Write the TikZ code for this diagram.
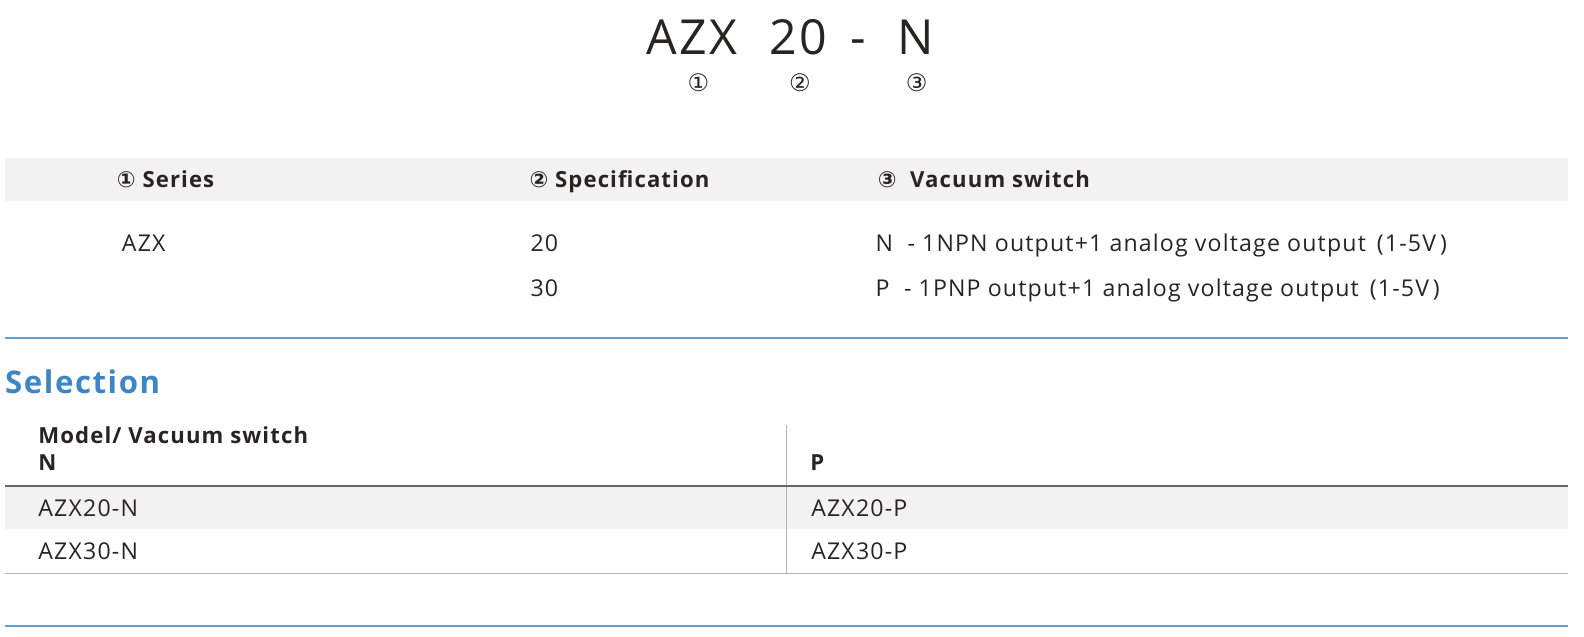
\documentclass[tikz,border=0pt]{standalone}
\usepackage{fontspec}
\setmainfont{Open Sans}[LetterSpace=5]
\newfontfamily\symfont{DejaVu Sans}
\definecolor{bandgray}{RGB}{242,242,242}
\definecolor{rulegray}{RGB}{180,180,180}
\definecolor{selblue}{RGB}{58,134,200}
\definecolor{lineblue}{RGB}{95,160,220}
\definecolor{txt}{RGB}{40,36,36}
\tikzset{
  body/.style={anchor=base west, inner sep=0pt, text=txt, font=\fontsize{23}{25}\selectfont},
  head/.style={body, font=\fontsize{22}{24}\selectfont\bfseries},
  big/.style={anchor=base, inner sep=0pt, text=txt, font=\fontsize{48}{50}\selectfont},
  circ/.style={inner sep=0pt, text=txt, font=\symfont\fontsize{24}{26}\selectfont}
}
\begin{document}
\begin{tikzpicture}[x=1pt,y=1pt,yscale=-1]
\useasboundingbox (0,0) rectangle (1574,632);
% title
\node[big] (azx) at (688,54) {AZX};
\node[big] (twenty) at (793,54) {20};
\node[big] (dash) at (853,54) {-};
\node[big] (n) at (910,54) {N};
\node[circ] (c1) at (694,82) {①};
\node[circ] (c2) at (795,82) {②};
\node[circ] (c3) at (911,82) {③};
% code table
\fill[bandgray] (5,157) rectangle (1558,200);
\node[head] (hser) at (116,186) {{\symfont ①} Series};
\node[head] (hspec) at (526,186) {{\symfont ②} Specification};
\node[head] (hvac) at (872,186) {{\symfont ③}\ \ Vacuum switch};
\node[body] (ser) at (121,250) {AZX};
\node[body] (s20) at (527,250) {20};
\node[body] (s30) at (527,295) {30};
\node[body] (vn) at (870,250) {N\ \ -\ 1NPN output+1 analog voltage output\ \,(1-5V\,)};
\node[body] (vp) at (870,295) {P\ \ -\ 1PNP output+1 analog voltage output\ \,(1-5V\,)};
\draw[lineblue, line width=1.5] (5,336) -- (1558,336);
% selection
\node[anchor=base west, inner sep=0pt, text=selblue, font=\fontsize{31}{34}\selectfont\bfseries] (sel) at (5,391) {Selection};
\fill[bandgray] (5,484) rectangle (1558,526);
\draw[rulegray, line width=1] (782,422) -- (782,570);
\node[head] (hmod) at (38,441) {Model/ Vacuum switch};
\node[head] (hn) at (38,468) {N};
\node[head] (hp) at (805,468) {P};
\draw[gray!80!black, line width=1.5] (5,483) -- (1558,483);
\node[body] (m20n) at (38,513) {AZX20-N};
\node[body] (m20p) at (806,513) {AZX20-P};
\node[body] (m30n) at (38,556) {AZX30-N};
\node[body] (m30p) at (806,556) {AZX30-P};
\draw[rulegray, line width=1.2] (5,570) -- (1558,570);
\draw[lineblue, line width=1.5] (5,622) -- (1558,622);
\end{tikzpicture}
\end{document}
